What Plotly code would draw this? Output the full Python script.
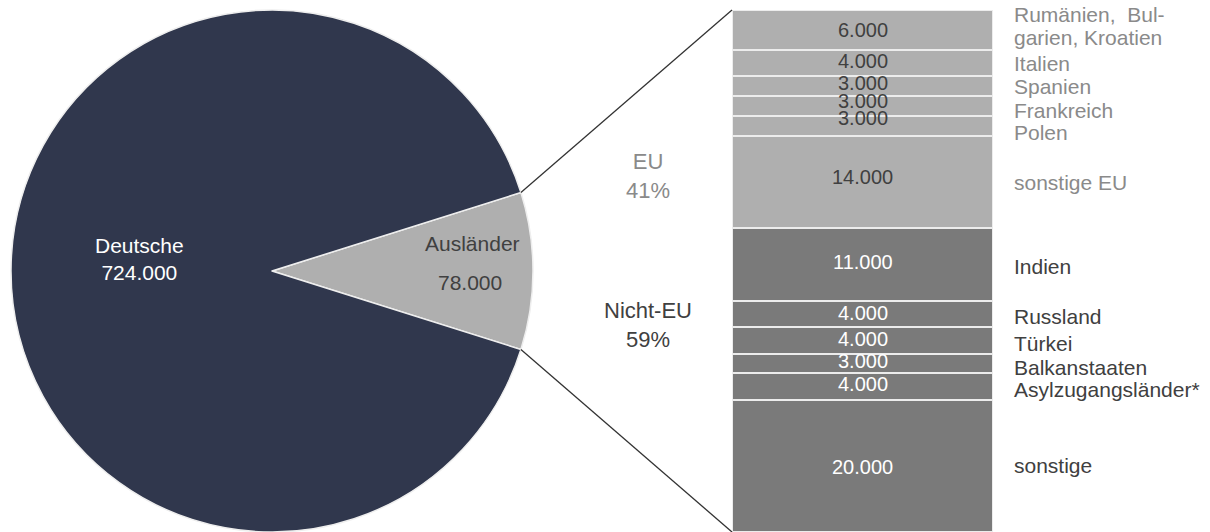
import math
import plotly.graph_objects as go

# ---------------- data ----------------
pie_labels = ["Ausländer", "Deutsche"]
pie_values = [78000, 724000]

eu_countries = ["Rumänien,  Bul-<br>garien, Kroatien", "Italien", "Spanien", "Frankreich", "Polen", "sonstige EU"]
eu_values = [6000, 4000, 3000, 3000, 3000, 14000]

noneu_countries = ["Indien", "Russland", "Türkei", "Balkanstaaten", "Asylzugangsländer*", "sonstige"]
noneu_values = [11000, 4000, 4000, 3000, 4000, 20000]

group_labels = ["EU<br>41%", "Nicht-EU<br>59%"]

# ---------------- layout constants ----------------
W, H = 1210, 532
FONT = "Liberation Sans, Arial, sans-serif"
C_NAVY = "#30374d"
C_LIGHT = "#afafaf"
C_DARK = "#7a7a7a"
C_TXT_DARK = "#404040"
C_TXT_GREY = "#8a8a8a"

pie_dom_x = [11 / W, 533 / W]
pie_dom_y = [0.0, 1 - 10 / H]
bar_dom_x = [732 / W, 993 / W]
bar_dom_y = [0.0, 1 - 10 / H]
y_max = 79.0  # thousand, bottom of the bar axis

# pixel offsets of text relative to segment centres (layout only; + = down)
eu_label_px = [[-15.8, 7.2], [1.1], [1.0], [4.2], [7.3], [1.1]]
noneu_label_px = [[2.5], [3.0], [3.6], [3.5], [2.4], [0.0]]
eu_val_px = [0.2, -1.9, -3.0, -4.8, -7.7, -4.9]
noneu_val_px = [-2.5, -1.0, -1.4, -2.5, -2.6, 1.0]

fig = go.Figure()

# pie: Ausländer slice centred on 3 o'clock
frac = pie_values[0] / sum(pie_values)
half_angle = frac * 360 / 2
fig.add_trace(go.Pie(
    labels=pie_labels, values=pie_values, sort=False, direction="clockwise",
    rotation=90 - half_angle,
    marker=dict(colors=[C_LIGHT, C_NAVY], line=dict(color="#eeeeee", width=1.5)),
    textinfo="none", hoverinfo="label+value", showlegend=False,
    domain=dict(x=pie_dom_x, y=pie_dom_y),
))

# stacked bar
all_names = eu_countries + noneu_countries
all_vals = eu_values + noneu_values
all_cols = [C_LIGHT] * len(eu_values) + [C_DARK] * len(noneu_values)
for name, v, c in zip(all_names, all_vals, all_cols):
    fig.add_trace(go.Bar(
        x=[0], y=[v / 1000], name=name.replace("<br>", " "),
        marker=dict(color=c, line=dict(color="#ececec", width=2)),
        width=1, showlegend=False, textposition="none", hoverinfo="name+y",
        xaxis="x", yaxis="y",
    ))

annotations = []
cum = 0.0
label_px = eu_label_px + noneu_label_px
val_px = eu_val_px + noneu_val_px
for i, (name, v) in enumerate(zip(all_names, all_vals)):
    kv = v / 1000
    centre = cum + kv / 2
    cum += kv
    is_eu = i < len(eu_values)
    annotations.append(dict(
        x=0, y=centre, xref="x", yref="y", yshift=-val_px[i],
        text=f"{v:,.0f}".replace(",", "."), showarrow=False,
        font=dict(family=FONT, size=20, color=C_TXT_DARK if is_eu else "white"),
        xanchor="center", yanchor="middle",
    ))
    for line, off in zip(name.split("<br>"), label_px[i]):
        annotations.append(dict(
            x=1012 / W, y=centre, xref="paper", yref="y", yshift=-off,
            text=line, showarrow=False, align="left",
            font=dict(family=FONT, size=21, color=C_TXT_GREY if is_eu else C_TXT_DARK),
            xanchor="left", yanchor="middle",
        ))

def txt(x_px, y_px, text, size, color):
    return dict(x=x_px / W, y=1 - y_px / H, xref="paper", yref="paper", text=text,
                showarrow=False, xanchor="center", yanchor="middle", align="center",
                font=dict(family=FONT, size=size, color=color))

# group labels
annotations.append(txt(648, 176, group_labels[0], 22, C_TXT_GREY))
annotations.append(txt(648, 325, group_labels[1], 22, C_TXT_DARK))

# pie labels
annotations.append(txt(139, 259, f"{pie_labels[1]}<br>{pie_values[1]:,.0f}".replace(",", "."), 21, "white"))
annotations.append(txt(472, 243, pie_labels[0], 21, C_TXT_DARK))
annotations.append(txt(470, 282, f"{pie_values[0]:,.0f}".replace(",", "."), 21, C_TXT_DARK))

# connector lines from slice edges to bar corners
r_px = min((pie_dom_x[1] - pie_dom_x[0]) * W, (pie_dom_y[1] - pie_dom_y[0]) * H) / 2
cx_px = (pie_dom_x[0] + pie_dom_x[1]) / 2 * W
cy_px = H - (pie_dom_y[0] + pie_dom_y[1]) / 2 * H
a = math.radians(half_angle)
ex = cx_px + r_px * math.cos(a)
ey_top = cy_px - r_px * math.sin(a)
ey_bot = cy_px + r_px * math.sin(a)
shapes = [
    dict(type="line", xref="paper", yref="paper", x0=ex / W, y0=1 - ey_top / H,
         x1=bar_dom_x[0], y1=bar_dom_y[1], line=dict(color="#333333", width=1.3)),
    dict(type="line", xref="paper", yref="paper", x0=ex / W, y0=1 - ey_bot / H,
         x1=bar_dom_x[0], y1=bar_dom_y[0], line=dict(color="#333333", width=1.3)),
]

fig.update_layout(
    width=W, height=H, margin=dict(l=0, r=0, t=0, b=0),
    paper_bgcolor="white", plot_bgcolor="white",
    barmode="stack", bargap=0,
    xaxis=dict(domain=bar_dom_x, range=[-0.5, 0.5], visible=False, fixedrange=True),
    yaxis=dict(domain=bar_dom_y, range=[y_max, 0], visible=False, fixedrange=True),
    annotations=annotations, shapes=shapes,
    font=dict(family=FONT),
)

fig.write_html("out.html", config={"displayModeBar": False},
               post_script="document.body.style.margin='0';document.body.style.overflow='hidden';")
